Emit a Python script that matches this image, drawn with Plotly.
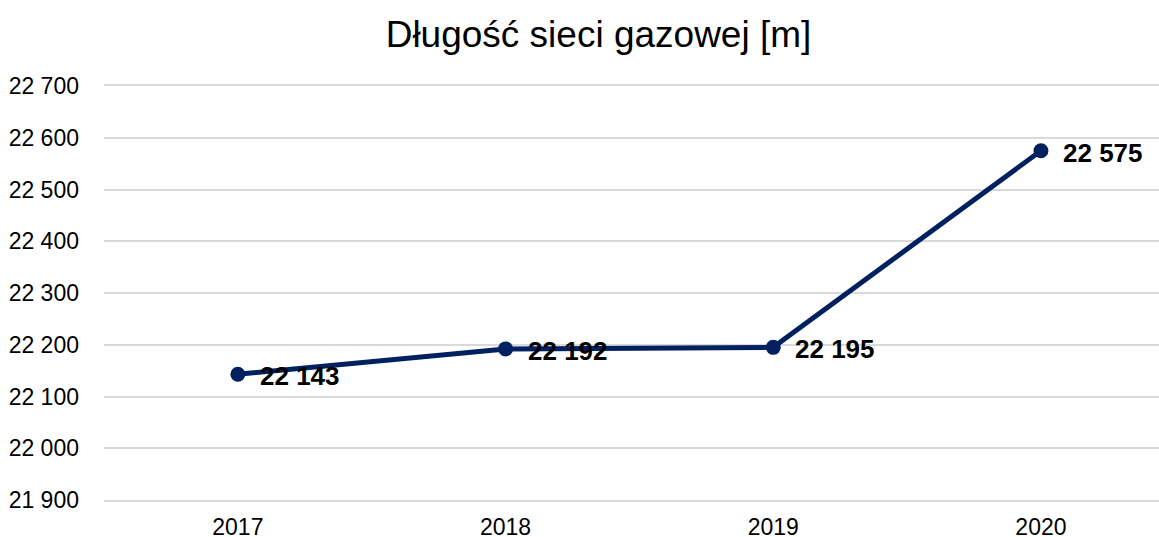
import plotly.graph_objects as go

years = ["2017", "2018", "2019", "2020"]
values = [22143, 22192, 22195, 22575]
labels = ["22 143", "22 192", "22 195", "22 575"]
title = "Długość sieci gazowej [m]"

NAVY = "#002060"
FONT = "Liberation Sans, Arial, sans-serif"

fig = go.Figure()
fig.add_trace(go.Scatter(
    x=years, y=values, mode="lines+markers",
    line=dict(color=NAVY, width=5),
    marker=dict(color=NAVY, size=15),
    hoverinfo="skip", showlegend=False,
))
for i, (y, t) in enumerate(zip(values, labels)):
    fig.add_annotation(x=i, y=y, text="<b>" + t + "</b>", showarrow=False,
                       xanchor="left", yanchor="middle", xshift=20, yshift=-2,
                       font=dict(family=FONT, size=26, color="#000000"))

fig.update_layout(
    width=1159, height=537,
    margin=dict(l=104, r=0, t=86, b=37),
    paper_bgcolor="white", plot_bgcolor="white",
    separators=", ",
    title=dict(text=title, x=0.5164, xanchor="center", xref="container",
               y=1 - 34 / 537, yanchor="middle", yref="container",
               font=dict(family=FONT, size=37, color="#000000")),
    font=dict(family=FONT, color="#000000"),
)
fig.update_xaxes(type="category", range=[-0.5, 3.441], showgrid=False,
                 showline=True, mirror=True, linecolor="#d9d9d9", linewidth=2,
                 zeroline=False, ticks="", automargin=False,
                 tickfont=dict(family=FONT, size=23, color="#000000"),
                 ticklabelstandoff=5)
fig.update_yaxes(range=[21900, 22700], dtick=100, tick0=21900, tickformat=",d",
                 showgrid=True, gridcolor="#d9d9d9", gridwidth=2,
                 zeroline=False, showline=False, ticks="", automargin=False,
                 tickfont=dict(family=FONT, size=23, color="#000000"),
                 ticklabelstandoff=24)

fig.write_html("out.html", config={"displayModeBar": False},
               post_script="document.body.style.margin='0';document.body.style.padding='0';")
